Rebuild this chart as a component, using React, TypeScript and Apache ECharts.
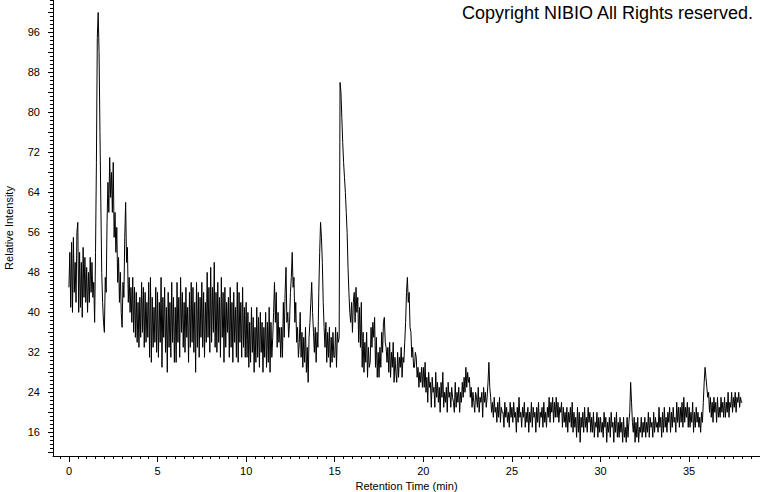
import React, { useEffect, useRef } from "react";
import * as echarts from "echarts";

// Sampling of the trace: one reading every 0.05 min starting at 0 min
const START_MIN = 0;
const STEP_MIN = 0.05;

// Relative intensity readings, 0.00 – 4.95 min
const intensity00 = [
  45, 52, 41, 54, 40, 55, 44, 50, 42, 56,
  58, 40, 52, 41, 50, 39, 53, 43, 51, 42,
  49, 40, 48, 42, 51, 44, 50, 43, 46, 38,
  52, 70, 95, 100, 92, 76, 62, 48, 42, 38,
  36, 47, 44, 58, 66, 60, 71, 63, 68, 60,
  70, 55, 60, 52, 57, 46, 51, 42, 48, 40,
  37, 46, 43, 55, 62, 50, 53, 42, 47, 40,
  45, 38, 47, 36, 45, 35, 44, 34, 42, 33,
  43, 35, 46, 36, 45, 33, 44, 34, 42, 35,
  46, 31, 47, 30, 43, 33, 41, 34, 45, 32,
];
// 5.00 – 9.95 min
const intensity05 = [
  44, 31, 42, 34, 47, 29, 43, 35, 45, 32,
  41, 28, 44, 33, 42, 31, 46, 34, 43, 30,
  41, 30, 46, 34, 43, 31, 47, 36, 44, 33,
  42, 32, 45, 35, 41, 30, 44, 33, 46, 34,
  45, 32, 42, 28, 46, 33, 44, 31, 43, 35,
  46, 33, 44, 31, 42, 34, 48, 35, 45, 32,
  49, 34, 45, 36, 50, 33, 44, 32, 46, 34,
  43, 31, 47, 35, 44, 30, 45, 33, 42, 36,
  43, 31, 45, 33, 42, 30, 44, 34, 41, 31,
  46, 30, 44, 34, 42, 31, 45, 33, 41, 31,
];
// 10.00 – 14.95 min
const intensity10 = [
  42, 31, 40, 29, 38, 30, 41, 32, 39, 28,
  37, 30, 41, 31, 39, 29, 40, 32, 38, 28,
  37, 31, 40, 29, 38, 30, 41, 28, 38, 31,
  35, 40, 46, 38, 44, 33, 40, 34, 37, 31,
  37, 31, 42, 35, 44, 49, 38, 40, 35, 38,
  44, 47, 52, 45, 47, 38, 42, 34, 37, 31,
  34, 40, 31, 36, 29, 35, 30, 37, 28, 33,
  26, 35, 38, 42, 46, 40, 36, 32, 37, 30,
  36, 33, 44, 52, 58, 55, 50, 42, 37, 33,
  38, 30, 36, 31, 37, 29, 35, 30, 36, 31,
];
// 15.00 – 19.95 min
const intensity15 = [
  31, 37, 29, 36, 34, 35, 86, 84, 79, 74,
  70, 67, 64, 60, 56, 49, 44, 40, 38, 42,
  36, 42, 44, 38, 45, 40, 43, 34, 41, 33,
  42, 29, 36, 28, 34, 30, 36, 27, 33, 29,
  30, 37, 33, 38, 35, 39, 29, 35, 27, 32,
  27, 33, 29, 36, 32, 38, 39, 34, 33, 30,
  33, 28, 34, 27, 32, 29, 34, 26, 31, 28,
  26, 32, 27, 31, 29, 33, 27, 31, 30, 34,
  38, 44, 47, 42, 44, 37, 36, 31, 33, 29,
  29, 32, 31, 27, 29, 25, 28, 26, 29, 25,
];
// 20.00 – 24.95 min
const intensity20 = [
  29, 25, 30, 24, 27, 22, 28, 25, 26, 21,
  27, 24, 25, 21, 28, 23, 26, 22, 25, 20,
  26, 23, 28, 21, 24, 22, 25, 20, 26, 23,
  24, 21, 25, 23, 22, 20, 26, 21, 24, 22,
  25, 20, 24, 22, 26, 23, 27, 24, 29, 25,
  28, 26, 27, 23, 25, 21, 24, 22, 20, 24,
  23, 21, 25, 20, 23, 22, 24, 19, 25, 22,
  24, 21, 23, 26, 30, 25, 23, 20, 22, 19,
  23, 20, 21, 18, 22, 19, 23, 18, 21, 20,
  20, 17, 22, 19, 21, 18, 20, 17, 22, 19,
];
// 25.00 – 29.95 min
const intensity25 = [
  21, 18, 22, 19, 20, 16, 21, 18, 23, 19,
  20, 17, 21, 19, 22, 17, 20, 18, 21, 16,
  20, 18, 22, 17, 21, 19, 20, 16, 21, 18,
  22, 17, 20, 19, 21, 17, 22, 18, 20, 17,
  21, 19, 23, 18, 22, 20, 23, 18, 22, 19,
  23, 19, 22, 18, 21, 20, 22, 17, 21, 18,
  20, 17, 21, 16, 20, 18, 21, 17, 22, 16,
  20, 17, 19, 15, 21, 16, 20, 14, 19, 17,
  20, 16, 21, 17, 19, 16, 21, 18, 20, 16,
  19, 16, 20, 15, 18, 17, 20, 15, 19, 16,
];
// 30.00 – 34.95 min
const intensity30 = [
  19, 16, 18, 15, 20, 17, 19, 14, 18, 16,
  19, 15, 20, 17, 18, 14, 19, 16, 20, 15,
  18, 15, 19, 16, 18, 14, 19, 15, 17, 14,
  19, 15, 18, 20, 26, 22, 18, 16, 19, 14,
  18, 15, 19, 14, 17, 16, 19, 15, 18, 16,
  19, 15, 18, 16, 20, 15, 19, 17, 18, 15,
  20, 16, 19, 17, 18, 16, 21, 17, 19, 15,
  20, 16, 21, 17, 19, 16, 20, 18, 21, 16,
  20, 17, 21, 18, 19, 16, 22, 18, 21, 17,
  21, 18, 22, 17, 23, 18, 21, 19, 22, 17,
];
// 35.00 – 38.00 min
const intensity35 = [
  21, 17, 20, 18, 22, 16, 20, 17, 21, 18,
  20, 17, 19, 16, 20, 18, 22, 26, 29, 27,
  25, 23, 24, 20, 23, 19, 22, 18, 23, 20,
  22, 18, 23, 19, 21, 19, 23, 20, 22, 19,
  23, 19, 22, 20, 24, 19, 22, 21, 24, 20,
  23, 21, 24, 20, 23, 22, 24, 21, 23, 22,
  22,
];

const X_LABELS = [0, 5, 10, 15, 20, 25, 30, 35];
const X_MINOR_STEP = 0.5;
const Y_LABELS = [16, 24, 32, 40, 48, 56, 64, 72, 80, 88, 96];
const Y_MAJOR_TICKS = [12, 16, 20, 24, 28, 32, 36, 40, 44, 48, 52, 56, 60, 64, 68, 72, 76, 80, 84, 88, 92, 96, 100];
const Y_MINOR_STEP = 0.8;

const X_MIN = -0.9;
const X_MAX = 39.0;
const Y_MIN = 11.26;
const Y_MAX = 102.5;

const FONT = '"Liberation Sans", Arial, Helvetica, sans-serif';

export default function App() {
  const ref = useRef<HTMLDivElement>(null);

  useEffect(() => {
    if (!ref.current) return;
    const chart = echarts.init(ref.current, null, { renderer: "svg" });

    const all = [
      ...intensity00, ...intensity05, ...intensity10, ...intensity15,
      ...intensity20, ...intensity25, ...intensity30, ...intensity35,
    ];
    const data = all.map((v, i) => [Math.round((START_MIN + i * STEP_MIN) * 1000) / 1000, v]);

    const xMinor: number[] = [];
    for (let k = Math.ceil(X_MIN / X_MINOR_STEP); k * X_MINOR_STEP <= X_MAX; k++) {
      xMinor.push(Math.round(k * X_MINOR_STEP * 100) / 100);
    }
    const yMinor: number[] = [];
    for (let k = 0; 12 + k * Y_MINOR_STEP <= Y_MAX; k++) {
      yMinor.push(Math.round((12 + k * Y_MINOR_STEP) * 100) / 100);
    }

    const black = "#000";
    chart.setOption({
      animation: false,
      grid: { left: 53, right: 0, top: 0, bottom: 36, containLabel: false, outerBoundsMode: "none" },
      graphic: [
        {
          type: "text",
          right: 6,
          top: 4,
          style: {
            text: "Copyright NIBIO All Rights reserved.",
            font: `18px ${FONT}`,
            fill: black,
          },
        },
      ],
      xAxis: [
        {
          type: "value",
          min: X_MIN,
          max: X_MAX,
          position: "bottom",
          name: "Retention Time (min)",
          nameLocation: "middle",
          nameGap: 22,
          nameTextStyle: { color: black, fontSize: 11, fontFamily: FONT },
          axisLine: { show: true, onZero: false, lineStyle: { color: black, width: 1 } },
          axisTick: { show: true, customValues: X_LABELS, length: 6, lineStyle: { color: black, width: 1 } },
          axisLabel: { customValues: X_LABELS, color: black, fontSize: 11, fontFamily: FONT, margin: 9 },
          splitLine: { show: false },
        },
        {
          type: "value",
          min: X_MIN,
          max: X_MAX,
          position: "bottom",
          axisLine: { show: false, onZero: false },
          axisTick: { show: true, customValues: xMinor, length: 3, lineStyle: { color: black, width: 1 } },
          axisLabel: { show: false },
          splitLine: { show: false },
        },
      ],
      yAxis: [
        {
          type: "value",
          min: Y_MIN,
          max: Y_MAX,
          position: "left",
          name: "Relative Intensity",
          nameLocation: "middle",
          nameGap: 39,
          nameTextStyle: { color: black, fontSize: 11, fontFamily: FONT },
          axisLine: { show: true, onZero: false, lineStyle: { color: black, width: 1 } },
          axisTick: { show: true, customValues: Y_MAJOR_TICKS, length: 5, lineStyle: { color: black, width: 1 } },
          axisLabel: { customValues: Y_LABELS, color: black, fontSize: 11, fontFamily: FONT, margin: 13 },
          splitLine: { show: false },
        },
        {
          type: "value",
          min: Y_MIN,
          max: Y_MAX,
          position: "left",
          axisLine: { show: false, onZero: false },
          axisTick: { show: true, customValues: yMinor, length: 3, lineStyle: { color: black, width: 1 } },
          axisLabel: { show: false },
          splitLine: { show: false },
        },
      ],
      series: [
        {
          type: "line",
          xAxisIndex: 0,
          yAxisIndex: 0,
          data,
          showSymbol: false,
          symbol: "none",
          silent: true,
          lineStyle: { color: black, width: 1 },
        },
      ],
    });

    return () => chart.dispose();
  }, []);

  return (
    <div
      ref={ref}
      style={{ position: "fixed", left: 0, top: 0, width: 760, height: 492, background: "#fff" }}
    />
  );
}
